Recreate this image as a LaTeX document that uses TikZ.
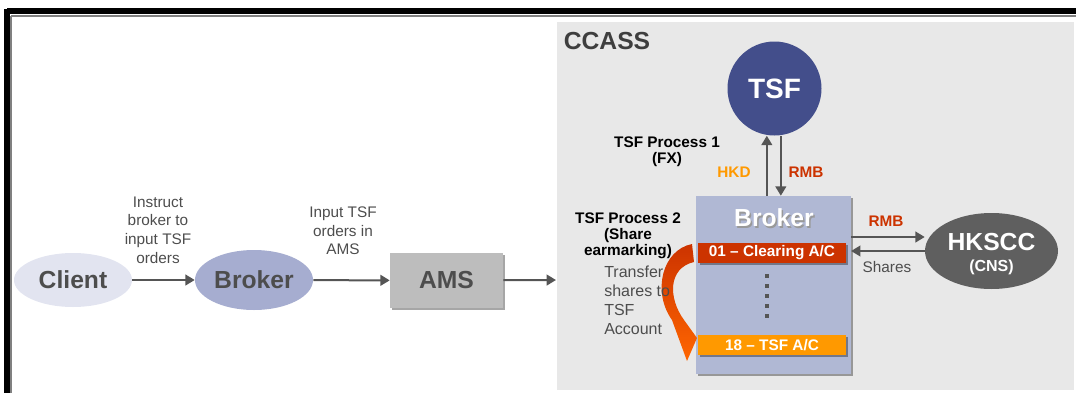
\documentclass[tikz,border=0pt]{standalone}
\usepackage{fontspec}
\setmainfont{Liberation Sans}
\usetikzlibrary{arrows.meta,shapes.geometric,shadows}

\definecolor{ccass fill}{RGB}{232,232,232}
\definecolor{label color}{RGB}{77,77,77}
\definecolor{arrow color}{RGB}{85,85,85}
\definecolor{tsf color}{RGB}{67,78,139}
\definecolor{box color}{RGB}{176,184,212}
\definecolor{clearing color}{RGB}{204,51,0}
\definecolor{account color}{RGB}{255,153,0}
\definecolor{curve color}{RGB}{255,102,0}
\definecolor{hkscc color}{RGB}{95,95,95}
\definecolor{client color}{RGB}{226,228,240}
\definecolor{broker color}{RGB}{166,173,208}
\definecolor{ams color}{RGB}{189,189,189}

\begin{document}
\begin{tikzpicture}[x=0.75pt, y=-0.75pt, font=\fontsize{11.5}{14}\selectfont,
    flow/.style={draw=arrow color, line width=1.5pt, -{Triangle[length=7pt,width=8pt]}},
    big/.style={font=\fontsize{18.5}{20}\selectfont\bfseries},
    bold label/.style={align=center, font=\fontsize{11.5}{12}\selectfont\bfseries},
    soft shadow/.style={drop shadow={shadow xshift=1.5pt, shadow yshift=-1.5pt, fill=black, opacity=.35}},
    bar/.style={rectangle, minimum width=111pt, minimum height=15pt, inner sep=0,
        text=white, font=\fontsize{11.5}{12}\selectfont\bfseries, soft shadow}]
    \useasboundingbox (0,0) rectangle (1076,393);

    % frame
    \draw [line width=4.5pt] (7,11) -- (1076,11);
    \draw [line width=4.5pt] (7,9) -- (7,393);
    \draw [gray, line width=1.2pt] (11,16) -- (1076,16);
    \draw [gray, line width=1.2pt] (11,16) -- (11,393);

    % CCASS area
    \fill [ccass fill] (557,22) rectangle (1074,390);
    \node (ccass) at (607,41) [big, text=label color!80!black] {CCASS};

    % client side
    \node (client) at (73,280) [ellipse, inner sep=0, minimum width=88.5pt, minimum height=40.5pt,
        fill=client color, big, text=label color] {Client};
    \node (brokerell) at (254,280) [ellipse, inner sep=0, minimum width=88.5pt, minimum height=45pt,
        fill=broker color, big, text=label color] {Broker};
    \node (ams) at (446.5,280.5) [rectangle, inner sep=0, minimum width=84.75pt, minimum height=41.25pt,
        fill=ams color, soft shadow, big, text=label color] {AMS};
    \coordinate (ccassin) at (556,280);

    \draw [flow] (client) -- (brokerell);
    \draw [flow] (brokerell) -- (ams);
    \draw [flow] (ams) -- (ccassin);

    \node (instruct) at (158,230) [align=center, text=label color] {Instruct\\broker to\\input TSF\\orders};
    \node (inputtsf) at (343,231) [align=center, text=label color] {Input TSF\\orders in\\AMS};

    % broker box
    \node (brokerbox) at (773.5,285) [rectangle, fill=box color, minimum width=116pt, minimum height=133.5pt,
        soft shadow] {};
    \node (boxtitleshade) at (775.5,219.5) [big, text=gray!80] {Broker};
    \node (boxtitle) at (774,218) [big, text=white] {Broker};
    \node (clearing) at (772,253) [bar, fill=clearing color] {01 -- Clearing A/C};
    \node (tsfac) at (772,345) [bar, fill=account color] {18 -- TSF A/C};
    \foreach \y in {274,284,...,314}
        \fill [arrow color] (765,\y) rectangle (769,\y+4);

    % TSF
    \node (tsf) at (774.5,88.5) [circle, inner sep=0, minimum size=70.5pt, fill=tsf color,
        text=white, font=\fontsize{21}{22}\selectfont\bfseries] {TSF};
    \coordinate (upfoot) at ([xshift=-5pt]brokerbox.north);
    \coordinate (downfoot) at ([xshift=5.5pt]brokerbox.north);
    \draw [flow] (upfoot) -- (upfoot |- tsf.south);
    \draw [flow] (downfoot |- tsf.south) -- (downfoot);

    \node (hkd) at (734,172) [bold label, text=account color] {HKD};
    \node (rmbtsf) at (806,172) [bold label, text=clearing color] {RMB};
    \node (process1) at (667,152) [bold label] {TSF Process 1\\(FX)};

    % share earmarking
    \path [top color=clearing color, bottom color=curve color]
        (692,244) .. controls (662,250) and (652,292) .. (672,320)
        -- (687,361) -- (697,338) -- (684,320)
        .. controls (668,298) and (668,268) .. (694,262) -- cycle;
    \node (process2) at (628,236) [bold label] {TSF Process 2\\(Share\\earmarking)};
    \node (transfer) at (604,300) [anchor=west, inner sep=0, align=left, text=label color,
        font=\fontsize{12}{14.25}\selectfont] {Transfer\\shares to\\TSF\\Account};

    % HKSCC
    \node (hkscc) at (991.5,251) [ellipse, inner sep=0, minimum width=99.75pt, minimum height=57pt,
        fill=hkscc color] {};
    \node (hksccname) at (991.5,242) [big, text=white] {HKSCC};
    \node (cns) at (991.5,267) [text=white, font=\fontsize{12}{12}\selectfont\bfseries] {(CNS)};
    \coordinate (rmbrow) at (0,237);
    \draw [flow] (brokerbox.east |- rmbrow) -- (hkscc.west |- rmbrow);
    \draw [flow] (hkscc.west) -- (brokerbox.east |- hkscc.west);
    \node (rmbhkscc) at (886,221) [bold label, text=clearing color] {RMB};
    \node (shares) at (887,267) [text=label color] {Shares};
\end{tikzpicture}
\end{document}
